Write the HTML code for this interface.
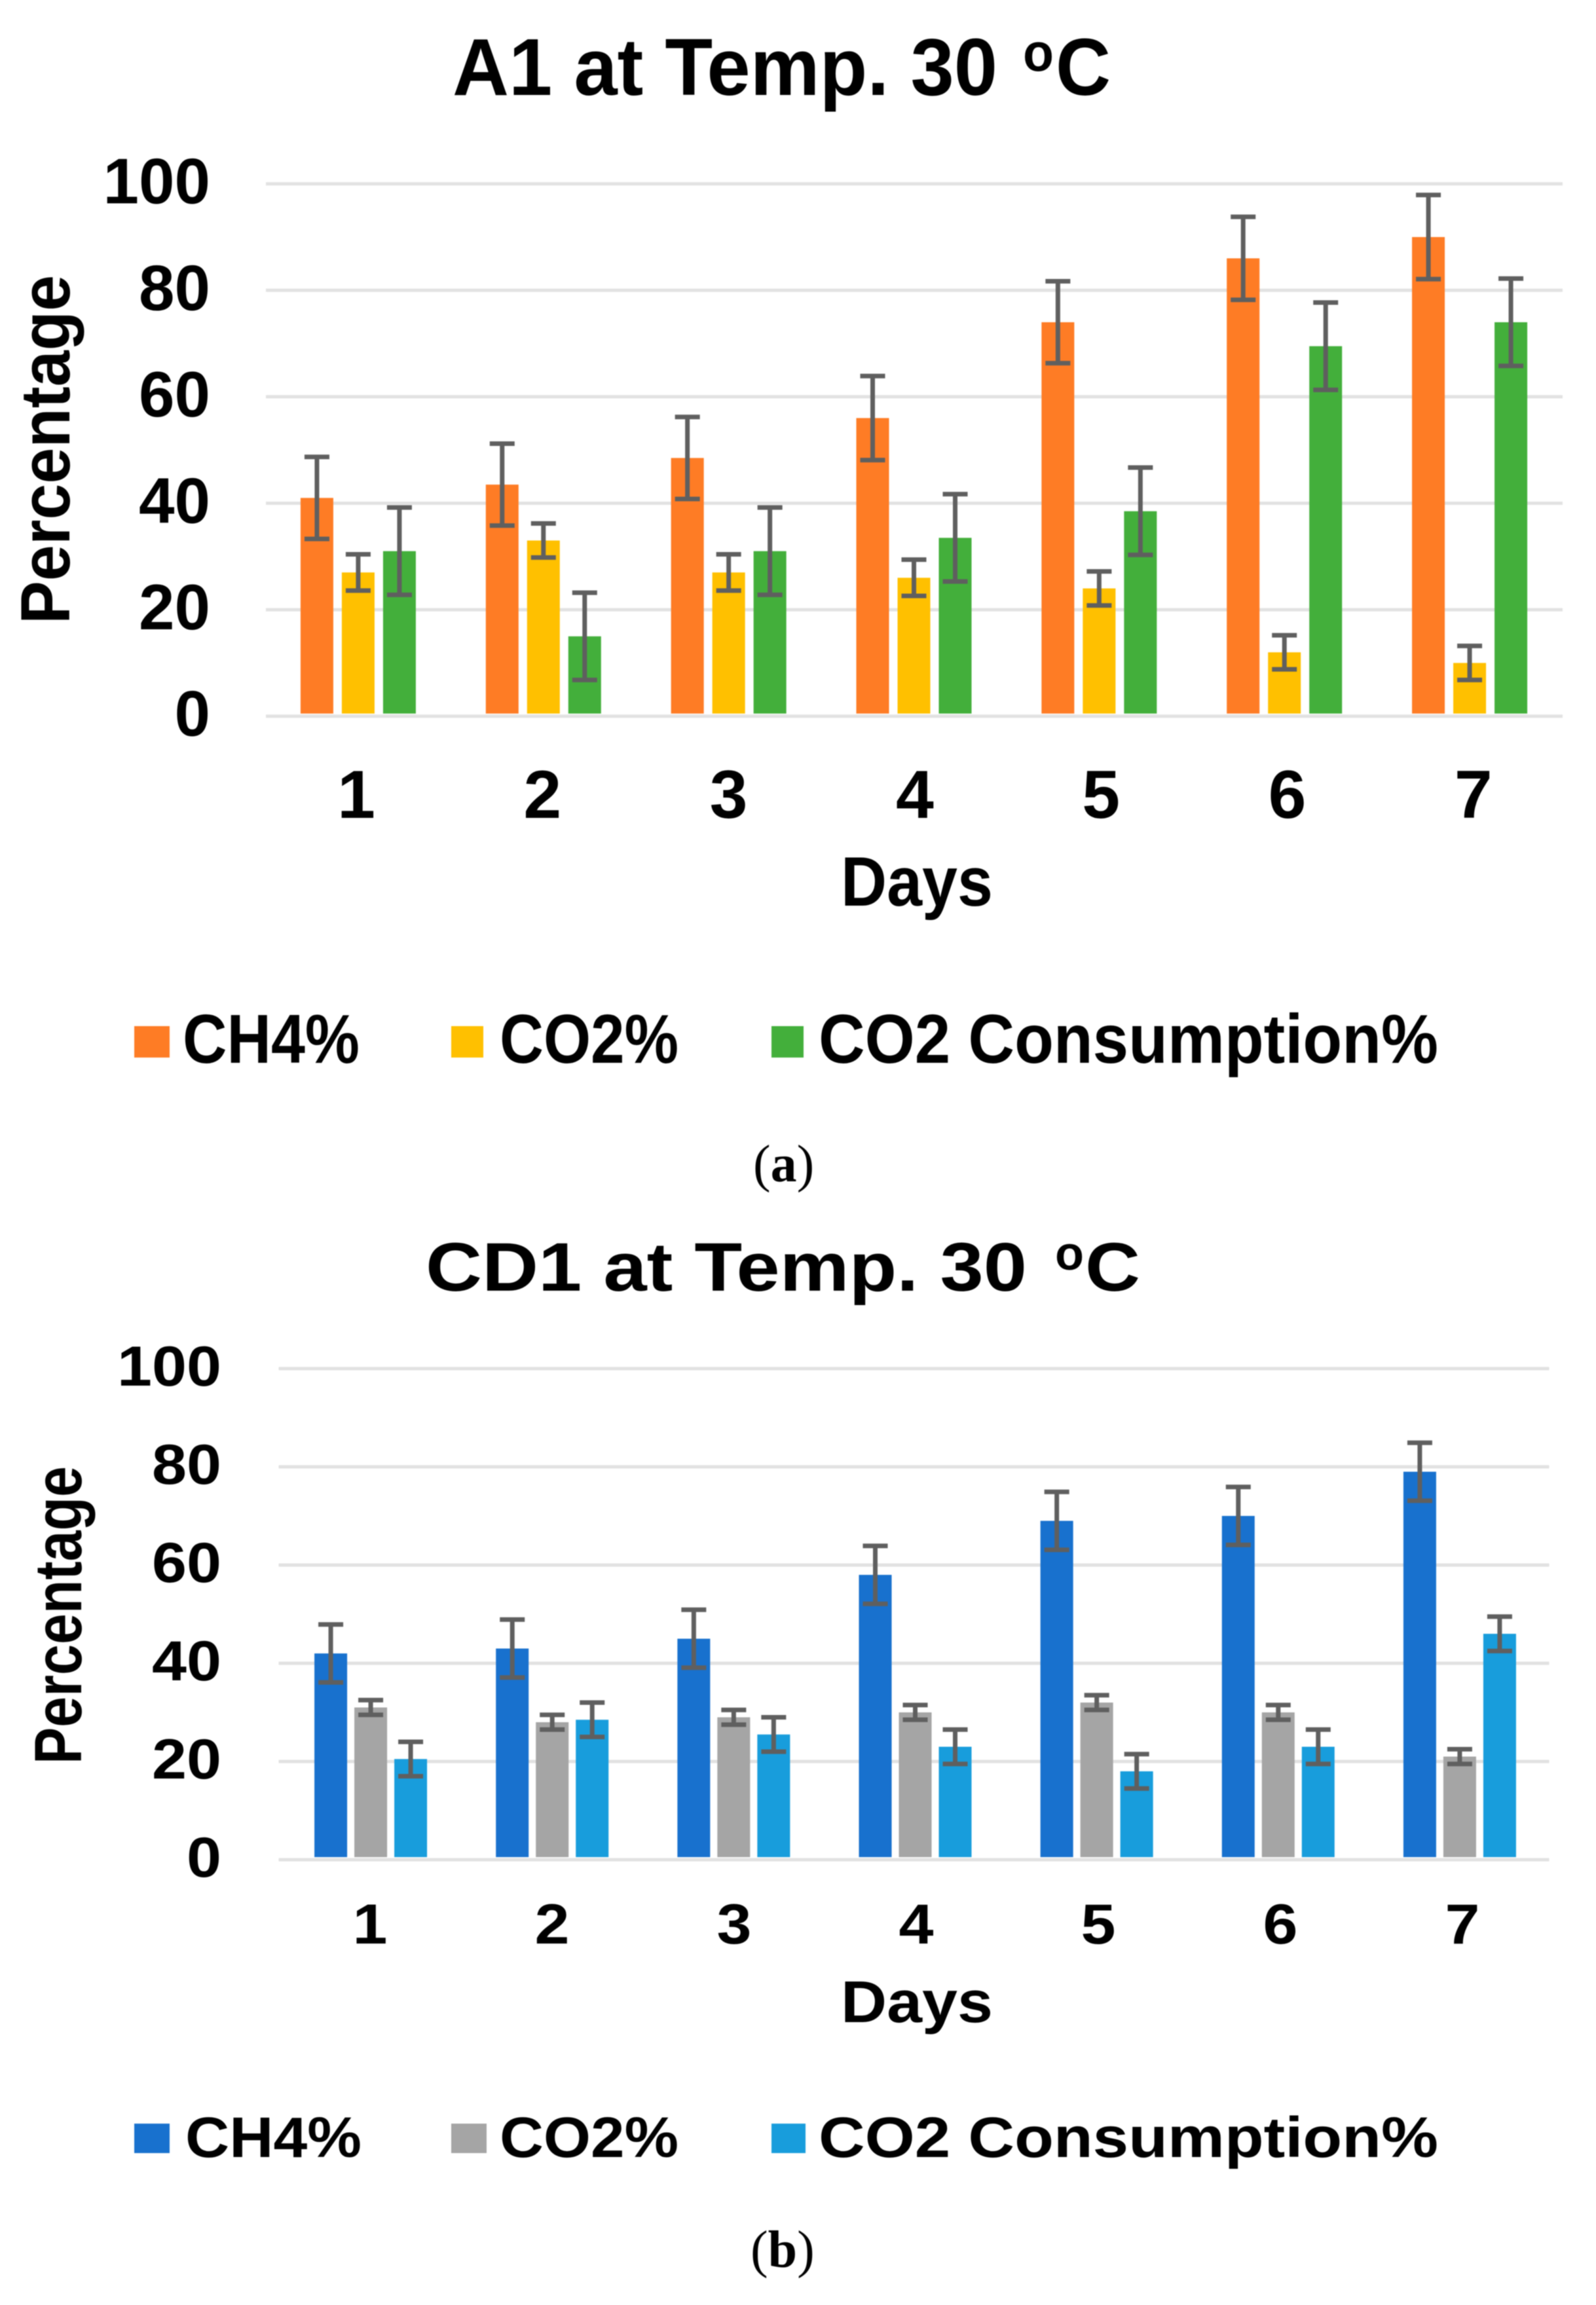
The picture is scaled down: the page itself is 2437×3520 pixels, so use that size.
<!DOCTYPE html>
<html lang="en">
<head>
<meta charset="utf-8">
<title>A1 and CD1 gas composition at 30 °C</title>
<style>
  html, body { margin: 0; padding: 0; background: #fff; }
  svg { display: block; filter: blur(0.9px); }
  text { font-family: "Liberation Sans", Arial, sans-serif; font-weight: 700; fill: #000; }
  .cap { font-family: "Liberation Serif", "Times New Roman", serif; font-weight: 400; }
</style>
</head>
<body>
<svg id="figure" xmlns="http://www.w3.org/2000/svg" width="2437" height="3520" viewBox="0 0 2437 3520">
  <rect x="0" y="0" width="2437" height="3520" fill="#ffffff"/>

  <g id="chart-a">
    <text x="691" y="145" font-size="123" textLength="832" lengthAdjust="spacingAndGlyphs">A1 at Temp. 30</text>
    <text x="1562" y="108" font-size="82" textLength="47" lengthAdjust="spacingAndGlyphs">o</text>
    <text x="1612" y="145" font-size="123" textLength="84" lengthAdjust="spacingAndGlyphs">C</text>
    <text transform="translate(106 953) rotate(-90)" font-size="107" textLength="533" lengthAdjust="spacingAndGlyphs">Percentage</text>
    <text x="1284" y="1383" font-size="107" textLength="232" lengthAdjust="spacingAndGlyphs">Days</text>
    <rect x="205" y="1567" width="54" height="48" fill="#fe7c25"/>
    <text x="279" y="1623" font-size="106" textLength="270" lengthAdjust="spacingAndGlyphs">CH4%</text>
    <rect x="689" y="1567" width="49" height="48" fill="#ffc000"/>
    <text x="763" y="1623" font-size="106" textLength="273" lengthAdjust="spacingAndGlyphs">CO2%</text>
    <rect x="1178" y="1567" width="49" height="48" fill="#43af3b"/>
    <text x="1250" y="1623" font-size="106" textLength="946" lengthAdjust="spacingAndGlyphs">CO2 Consumption%</text>
    <text class="cap" x="1150" y="1804" font-size="80">(<tspan font-weight="700">a</tspan>)</text>
  </g>

  <g id="chart-b">
    <text x="650" y="1971" font-size="105" textLength="918" lengthAdjust="spacingAndGlyphs">CD1 at Temp. 30</text>
    <text x="1611" y="1939" font-size="72" textLength="44" lengthAdjust="spacingAndGlyphs">o</text>
    <text x="1657" y="1971" font-size="105" textLength="84" lengthAdjust="spacingAndGlyphs">C</text>
    <text transform="translate(124 2694) rotate(-90)" font-size="102" textLength="455" lengthAdjust="spacingAndGlyphs">Percentage</text>
    <text x="1284" y="3088" font-size="90" textLength="232" lengthAdjust="spacingAndGlyphs">Days</text>
    <rect x="205" y="3243" width="54" height="45" fill="#1871ce"/>
    <text x="283" y="3294" font-size="87" textLength="269" lengthAdjust="spacingAndGlyphs">CH4%</text>
    <rect x="689" y="3243" width="54" height="45" fill="#a5a5a5"/>
    <text x="763" y="3294" font-size="87" textLength="273" lengthAdjust="spacingAndGlyphs">CO2%</text>
    <rect x="1178" y="3243" width="52" height="45" fill="#189ddc"/>
    <text x="1250" y="3294" font-size="87" textLength="946" lengthAdjust="spacingAndGlyphs">CO2 Consumption%</text>
    <text class="cap" x="1146" y="3462" font-size="80">(<tspan font-weight="700">b</tspan>)</text>
  </g>
</svg>

<script>
// ---------- data ----------
const dayLabels = ["1", "2", "3", "4", "5", "6", "7"];
const yTickValues = [0, 20, 40, 60, 80, 100];

const a1Ch4 = [41, 43.5, 48.5, 56, 74, 86, 90];
const a1Co2 = [27, 33, 27, 26, 24, 12, 10];
const a1Consumption = [31, 15, 31, 33.5, 38.5, 69.5, 74];
const a1Ch4Err = [7.7, 7.7, 7.7, 7.9, 7.7, 7.8, 7.9];
const a1Co2Err = [3.4, 3.2, 3.4, 3.4, 3.2, 3.2, 3.2];
const a1ConsumptionErr = [8.2, 8.2, 8.2, 8.2, 8.2, 8.2, 8.2];

const cd1Ch4 = [42, 43, 45, 58, 69, 70, 79];
const cd1Co2 = [31, 28, 29, 30, 32, 30, 21];
const cd1Consumption = [20.5, 28.5, 25.5, 23, 18, 23, 46];
const cd1Ch4Err = [5.9, 5.9, 5.9, 5.9, 5.9, 5.9, 5.9];
const cd1Co2Err = [1.5, 1.5, 1.5, 1.5, 1.5, 1.5, 1.5];
const cd1ConsumptionErr = [3.5, 3.5, 3.5, 3.5, 3.5, 3.5, 3.5];

// ---------- drawing ----------
const SVG_NS = "http://www.w3.org/2000/svg";
const ERROR_COLOR = "#5f5f5f";
const GRID_COLOR = "#e2e2e2";

function mk(parent, tag, attrs, content) {
  const el = document.createElementNS(SVG_NS, tag);
  for (const k in attrs) el.setAttribute(k, attrs[k]);
  if (content !== undefined) el.textContent = content;
  parent.appendChild(el);
  return el;
}

function drawChart(cfg) {
  const root = document.getElementById(cfg.id);
  const plot = document.createElementNS(SVG_NS, "g");
  
  
  root.insertBefore(plot, root.firstChild);

  const catW = (cfg.right - cfg.left) / dayLabels.length;
  const yPos = v => cfg.zeroY - v * cfg.unit;
  const catX = i => cfg.left + catW * (i + 0.5) + cfg.barShift;
  const barX = (i, s) => catX(i) + (s - 1) * cfg.pitch;
  const labelX = i => cfg.labelStart + cfg.labelStep * i;

  yTickValues.forEach(t => {
    const line = mk(plot, "line", { x1: cfg.left, x2: cfg.right, y1: yPos(t), y2: yPos(t), stroke: GRID_COLOR, "stroke-width": 5 });
    
    

    const label = mk(plot, "text", { x: cfg.tickRight, y: yPos(t) + cfg.tickDy, "font-size": cfg.tickSize, "text-anchor": "end" }, String(t));
    if (cfg.digitW) {
      label.setAttribute("textLength", String(t).length * cfg.digitW);
      label.setAttribute("lengthAdjust", "spacingAndGlyphs");
    }
    
    
  });

  dayLabels.forEach((d, i) => {
    const label = mk(plot, "text", { x: labelX(i), y: cfg.xTickY, "font-size": cfg.xTickSize, "text-anchor": "middle" }, d);
    if (cfg.digitW) {
      label.setAttribute("textLength", cfg.digitW);
      label.setAttribute("lengthAdjust", "spacingAndGlyphs");
    }
    
    
  });

  cfg.series.forEach((series, s) => {
    series.values.forEach((v, i) => {
      const cx = barX(i, s);
      const top = yPos(v);
      const bar = mk(plot, "rect", { x: cx - cfg.barW / 2, y: top, width: cfg.barW, height: Math.max(0, cfg.zeroY - cfg.baseGap - top), fill: series.color });
      
      
    });
  });

  cfg.series.forEach((series, s) => {
    series.values.forEach((v, i) => {
      const cx = barX(i, s);
      const e = series.errors[i];
      const hi = yPos(v + e);
      const lo = yPos(v - e);
      const group = mk(plot, "g", { stroke: ERROR_COLOR, "stroke-width": 7, fill: "none" });
      
      
      mk(group, "line", { x1: cx, x2: cx, y1: hi, y2: lo });
      mk(group, "line", { x1: cx - cfg.capW / 2, x2: cx + cfg.capW / 2, y1: hi, y2: hi });
      mk(group, "line", { x1: cx - cfg.capW / 2, x2: cx + cfg.capW / 2, y1: lo, y2: lo });
    });
  });
}

drawChart({
  id: "chart-a", left: 406, right: 2386, zeroY: 1093.7, unit: 8.13, baseGap: 4,
  pitch: 63, barW: 50, capW: 38, barShift: -0.5,
  tickRight: 321, tickDy: 30, tickSize: 98, digitW: 0,
  xTickY: 1249, xTickSize: 104, labelStart: 544, labelStep: 284.3,
  series: [
    { key: "ch4", color: "#fe7c25", values: a1Ch4, errors: a1Ch4Err },
    { key: "co2", color: "#ffc000", values: a1Co2, errors: a1Co2Err },
    { key: "consumption", color: "#43af3b", values: a1Consumption, errors: a1ConsumptionErr }
  ]
});

drawChart({
  id: "chart-b", left: 425.5, right: 2365.5, zeroY: 2840, unit: 7.5, baseGap: 4,
  pitch: 61, barW: 50, capW: 38, barShift: 2,
  tickRight: 338, tickDy: 26, tickSize: 86, digitW: 53,
  xTickY: 2968, xTickSize: 86, labelStart: 565, labelStep: 278,
  series: [
    { key: "ch4", color: "#1871ce", values: cd1Ch4, errors: cd1Ch4Err },
    { key: "co2", color: "#a5a5a5", values: cd1Co2, errors: cd1Co2Err },
    { key: "consumption", color: "#189ddc", values: cd1Consumption, errors: cd1ConsumptionErr }
  ]
});
</script>
</body>
</html>
